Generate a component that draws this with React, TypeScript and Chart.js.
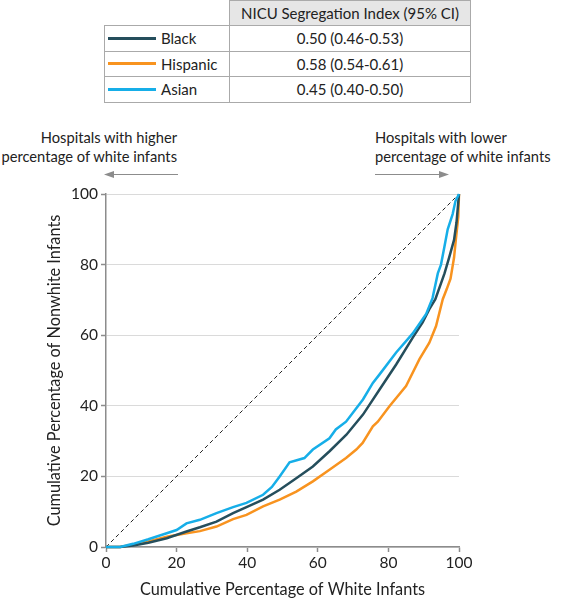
import React, { useEffect, useRef } from "react";
import { Chart, registerables } from "chart.js";

Chart.register(...registerables);

// ---- data ----
const blackX = [0, 4, 7.7, 12, 17.2, 22.8, 26.6, 31.3, 36, 39.8, 44.5, 49.2, 53.9, 58.6, 63.4, 68.1, 72.8, 77.5, 82.2, 86.9, 89.7, 91.6, 93.3, 95.9, 97.2, 98.6, 99.3, 100];
const blackY = [0, 0, 0.4, 1.2, 2.5, 4.4, 5.6, 7.2, 9.6, 11.3, 13.4, 16.2, 19.5, 22.8, 27.2, 31.8, 37.5, 44.6, 51.7, 59.3, 63.6, 67.4, 70.2, 77.5, 82, 87, 92, 100];

const hispanicX = [0, 4, 7.7, 12, 17.2, 22.8, 26.6, 31.3, 36, 39.8, 44.5, 49.2, 53.9, 58.6, 63.3, 68, 70.9, 72.7, 75.6, 77, 80.3, 85, 88.8, 91.6, 93.5, 95.4, 96.5, 97.6, 98.6, 99.1, 99.8, 100];
const hispanicY = [0, 0, 0.7, 1.6, 2.9, 3.9, 4.5, 5.8, 7.9, 9.1, 11.5, 13.4, 15.7, 18.6, 21.9, 25.2, 27.6, 29.5, 34.2, 35.5, 39.9, 45.6, 53.2, 57.9, 62.6, 70.2, 73, 76, 82, 87, 93.6, 100];

const asianX = [0, 4, 7.7, 12, 17.2, 20, 22.8, 26.6, 31.3, 36, 39.8, 44.5, 47, 49.2, 52, 56.2, 58.6, 63.3, 65.1, 68, 72.8, 75.6, 77.5, 82.2, 86.9, 90.7, 92.5, 94, 94.9, 95.8, 96.8, 98.2, 99, 100];
const asianY = [0, 0, 0.9, 2.2, 3.9, 4.8, 6.7, 7.7, 9.6, 11.3, 12.5, 14.8, 17, 20, 24, 25.2, 27.6, 30.8, 33.3, 35.5, 41.8, 46.5, 48.9, 55.1, 60.5, 66, 70.5, 77.5, 80, 84.7, 90, 94.3, 98, 100];

const equalityX = [0, 100];
const equalityY = [0, 100];

const xTicks = [0, 20, 40, 60, 80, 100];
const yTicks = [0, 20, 40, 60, 80, 100];

const seriesNames = ["Black", "Hispanic", "Asian"];
const seriesColors = ["#254e5c", "#f8931f", "#16aee8"];
const indexLabels = ["0.50 (0.46-0.53)", "0.58 (0.54-0.61)", "0.45 (0.40-0.50)"];
const tableHeader = "NICU Segregation Index (95% CI)";
const leftNote = ["Hospitals with higher", "percentage of white infants"];
const rightNote = ["Hospitals with lower", "percentage of white infants"];
const xTitle = "Cumulative Percentage of White Infants";
const yTitle = "Cumulative Percentage of Nonwhite Infants";

const FONT = "Lato, 'Liberation Sans', Arial, sans-serif";
const TEXT = "#222222";
const AXIS = "#8c8c8c";

const pts = (xs: number[], ys: number[]) => xs.map((x, i) => ({ x, y: ys[i] }));

function ChartCanvas() {
  const ref = useRef<HTMLCanvasElement | null>(null);
  useEffect(() => {
    if (!ref.current) return;
    const line = (label: string, xs: number[], ys: number[], color: string, order: number) => ({
      label,
      data: pts(xs, ys),
      borderColor: color,
      backgroundColor: color,
      borderWidth: 2.5,
      pointRadius: 0,
      tension: 0,
      clip: false as any,
      order,
    });
    const chart = new Chart(ref.current, {
      type: "line",
      data: {
        datasets: [
          line(seriesNames[2], asianX, asianY, seriesColors[2], 1),
          line(seriesNames[0], blackX, blackY, seriesColors[0], 2),
          line(seriesNames[1], hispanicX, hispanicY, seriesColors[1], 3),
          {
            label: "Equality",
            data: pts(equalityX, equalityY),
            borderColor: "#222",
            borderWidth: 1,
            borderDash: [4, 3],
            pointRadius: 0,
            order: 4,
          },
        ] as any,
      },
      options: {
        animation: false,
        responsive: false,
        devicePixelRatio: 1,
        layout: { padding: { left: 0, right: 107, top: 14, bottom: 0 } },
        plugins: { legend: { display: false }, tooltip: { enabled: false } },
        scales: {
          x: {
            type: "linear",
            min: 0,
            max: 100,
            afterBuildTicks: (s: any) => {
              s.ticks = xTicks.map((v) => ({ value: v }));
            },
            afterFit: (s: any) => {
              s.height = 53;
            },
            grid: { drawOnChartArea: false, tickLength: 5, tickColor: AXIS, tickWidth: 1.5 },
            border: { color: AXIS, width: 1.5 },
            ticks: { color: TEXT, font: { family: FONT, size: 15.5 }, padding: 2, maxRotation: 0 },
            title: {
              display: true,
              text: xTitle,
              color: TEXT,
              font: { family: FONT, size: 16.3 },
              padding: { top: 0, bottom: 0 },
            },
          },
          y: {
            type: "linear",
            min: 0,
            max: 100,
            afterBuildTicks: (s: any) => {
              s.ticks = yTicks.map((v) => ({ value: v }));
            },
            afterFit: (s: any) => {
              s.width = 106;
            },
            grid: { color: "#dadada", lineWidth: 1, tickLength: 5, tickColor: AXIS, tickWidth: 1.5 },
            border: { color: AXIS, width: 1.5 },
            ticks: { color: TEXT, font: { family: FONT, size: 15.5 }, padding: 3 },
            title: {
              display: true,
              text: yTitle,
              color: TEXT,
              font: { family: FONT, size: 16.3 },
              padding: { top: 45, bottom: 0 },
            },
          },
        },
      } as any,
    });
    return () => chart.destroy();
  }, []);
  return (
    <canvas
      ref={ref}
      width={566}
      height={420}
      style={{ position: "absolute", left: 0, top: 180, width: 566, height: 420 }}
    />
  );
}

export default function App() {
  const border = "1px solid #aaaaaa";
  const rowTop = [25, 50.5, 76];
  const rowH = 26.5;
  const fs = 15;
  const noteFs = 14.7;
  return (
    <div
      style={{
        position: "absolute",
        left: 0,
        top: 0,
        width: 566,
        height: 600,
        background: "#fff",
        fontFamily: FONT,
        color: TEXT,
        overflow: "hidden",
      }}
    >
      {/* table header */}
      <div
        style={{
          position: "absolute",
          left: 229,
          top: 0,
          width: 242,
          height: 26,
          boxSizing: "border-box",
          border,
          background: "#e6e6e6",
          fontSize: fs,
          lineHeight: "24px",
          textAlign: "center",
        }}
      >
        {tableHeader}
      </div>
      {seriesNames.map((name, i) => (
        <React.Fragment key={name}>
          <div
            style={{
              position: "absolute",
              left: 104,
              top: rowTop[i],
              width: 126,
              height: rowH,
              boxSizing: "border-box",
              border,
              fontSize: fs,
              lineHeight: `${rowH - 2}px`,
            }}
          >
            <div
              style={{
                position: "absolute",
                left: 3,
                top: (rowH - 2) / 2 - 1.5,
                width: 48,
                height: 3,
                background: seriesColors[i],
              }}
            />
            <span style={{ position: "absolute", left: 56, top: 0 }}>{name}</span>
          </div>
          <div
            style={{
              position: "absolute",
              left: 229,
              top: rowTop[i],
              width: 242,
              height: rowH,
              boxSizing: "border-box",
              border,
              fontSize: fs,
              lineHeight: `${rowH - 2}px`,
              textAlign: "center",
            }}
          >
            {indexLabels[i]}
          </div>
        </React.Fragment>
      ))}

      {/* annotations */}
      <div
        style={{
          position: "absolute",
          right: 566 - 177,
          top: 128,
          fontSize: noteFs,
          lineHeight: "19px",
          textAlign: "right",
          whiteSpace: "nowrap",
        }}
      >
        {leftNote[0]}
        <br />
        {leftNote[1]}
      </div>
      <div
        style={{
          position: "absolute",
          left: 375,
          top: 128,
          fontSize: noteFs,
          lineHeight: "19px",
          textAlign: "left",
          whiteSpace: "nowrap",
        }}
      >
        {rightNote[0]}
        <br />
        {rightNote[1]}
      </div>
      <svg width={566} height={200} style={{ position: "absolute", left: 0, top: 0 }}>
        <line x1={178} y1={174.5} x2={112} y2={174.5} stroke="#8c8c8c" strokeWidth={1.2} />
        <polygon points="104,174.5 114,171 114,178" fill="#8c8c8c" />
        <line x1={375} y1={174.5} x2={441} y2={174.5} stroke="#8c8c8c" strokeWidth={1.2} />
        <polygon points="449,174.5 439,171 439,178" fill="#8c8c8c" />
      </svg>

      <ChartCanvas />
    </div>
  );
}
